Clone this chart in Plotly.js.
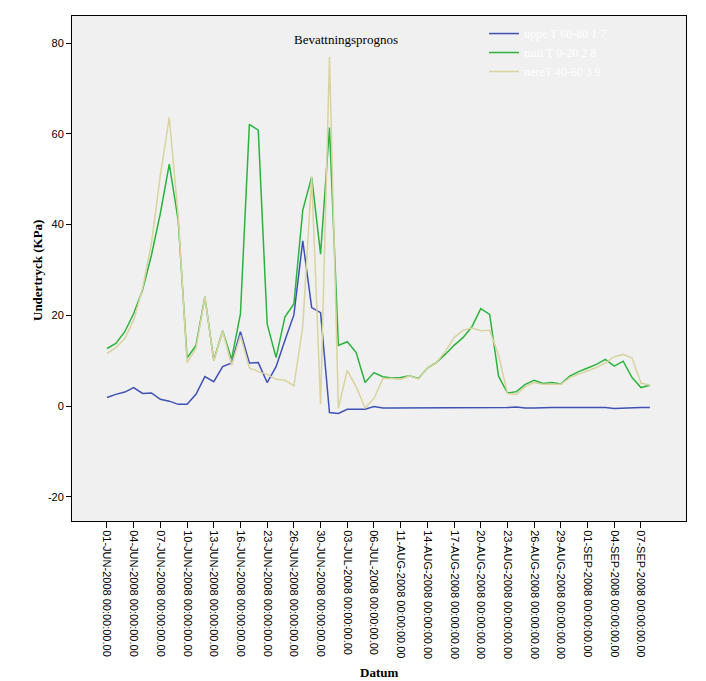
<!DOCTYPE html>
<html>
<head>
<meta charset="utf-8">
<script src="https://cdn.plot.ly/plotly-3.0.1.min.js"></script>
<style>
html,body{margin:0;padding:0;background:#ffffff;}
#chart{width:706px;height:681px;}
</style>
</head>
<body>
<div id="chart"></div>
<script>
// Category labels (one per measurement)
var dates = [
"01-JUN-2008 00:00:00.00","02-JUN-2008 00:00:00.00","03-JUN-2008 00:00:00.00","04-JUN-2008 00:00:00.00",
"05-JUN-2008 00:00:00.00","06-JUN-2008 00:00:00.00","07-JUN-2008 00:00:00.00","08-JUN-2008 00:00:00.00",
"09-JUN-2008 00:00:00.00","10-JUN-2008 00:00:00.00","11-JUN-2008 00:00:00.00","12-JUN-2008 00:00:00.00",
"13-JUN-2008 00:00:00.00","14-JUN-2008 00:00:00.00","15-JUN-2008 00:00:00.00","16-JUN-2008 00:00:00.00",
"18-JUN-2008 00:00:00.00","20-JUN-2008 00:00:00.00","23-JUN-2008 00:00:00.00","24-JUN-2008 00:00:00.00",
"25-JUN-2008 00:00:00.00","26-JUN-2008 00:00:00.00","27-JUN-2008 00:00:00.00","29-JUN-2008 00:00:00.00",
"30-JUN-2008 00:00:00.00","01-JUL-2008 00:00:00.00","02-JUL-2008 00:00:00.00","03-JUL-2008 00:00:00.00",
"04-JUL-2008 00:00:00.00","05-JUL-2008 00:00:00.00","06-JUL-2008 00:00:00.00","08-JUL-2008 00:00:00.00",
"10-AUG-2008 00:00:00.00","11-AUG-2008 00:00:00.00","12-AUG-2008 00:00:00.00","13-AUG-2008 00:00:00.00",
"14-AUG-2008 00:00:00.00","15-AUG-2008 00:00:00.00","16-AUG-2008 00:00:00.00","17-AUG-2008 00:00:00.00",
"18-AUG-2008 00:00:00.00","19-AUG-2008 00:00:00.00","20-AUG-2008 00:00:00.00","21-AUG-2008 00:00:00.00",
"22-AUG-2008 00:00:00.00","23-AUG-2008 00:00:00.00","24-AUG-2008 00:00:00.00","25-AUG-2008 00:00:00.00",
"26-AUG-2008 00:00:00.00","27-AUG-2008 00:00:00.00","28-AUG-2008 00:00:00.00","29-AUG-2008 00:00:00.00",
"30-AUG-2008 00:00:00.00","31-AUG-2008 00:00:00.00","01-SEP-2008 00:00:00.00","02-SEP-2008 00:00:00.00",
"03-SEP-2008 00:00:00.00","04-SEP-2008 00:00:00.00","05-SEP-2008 00:00:00.00","06-SEP-2008 00:00:00.00",
"07-SEP-2008 00:00:00.00","08-SEP-2008 00:00:00.00"
];

// Series names
var seriesNames = ["uppe T 60-80 1 7", "mitt T 0-20 2 8", "nereT 40-60 3 9"];

// uppe (blue)
var uppe = [1.9,2.6,3.1,4.1,2.8,2.9,1.5,1.1,0.4,0.4,
            2.6,6.5,5.4,8.7,9.5,16.4,9.5,9.6,5.2,8.7,
            14.5,20.1,36.4,21.7,20.6,-1.4,-1.6,-0.7,-0.7,-0.7,
            -0.1,-0.4,-0.4,-0.4,-0.3,-0.4,-0.3,-0.3,-0.3,-0.3,
            -0.3,-0.3,-0.3,-0.3,-0.3,-0.3,-0.2,-0.4,-0.4,-0.3,
            -0.3,-0.3,-0.3,-0.3,-0.3,-0.4,-0.3,-0.5,-0.4,-0.3,
            -0.3,-0.3];

// mitt (green)
var mitt = [12.7,13.8,16.4,20.4,25.6,33.3,42.5,53.3,41.0,10.6,
            13.4,24.1,10.1,16.6,10.3,20.4,62.1,60.8,18.1,10.7,
            19.7,22.5,43.2,50.5,33.5,61.4,13.4,14.2,11.8,5.2,
            7.4,6.5,6.2,6.3,6.7,6.1,8.4,9.6,11.4,13.4,
            15.1,17.5,21.5,20.2,6.6,2.9,3.2,4.8,5.7,5.0,
            5.2,4.9,6.6,7.6,8.4,9.2,10.3,8.8,9.9,6.3,
            4.1,4.6];

// nere (tan)
var nere = [11.6,12.9,14.9,19.0,25.9,35.9,50.9,63.6,42.0,9.6,
            12.7,24.1,9.9,16.6,9.0,15.6,8.4,7.6,7.0,5.9,
            5.7,4.5,17.5,50.5,0.4,76.9,-0.5,7.9,4.3,-0.4,
            1.7,6.1,6.1,5.9,6.7,6.0,8.4,9.5,12.0,15.1,
            16.7,17.2,16.6,16.7,11.2,2.8,2.6,4.3,5.2,4.8,
            4.8,4.8,6.3,7.1,7.8,8.5,9.5,10.9,11.4,10.6,
            5.1,4.6];

var yTicks = [-20, 0, 20, 40, 60, 80];

var colors = ["#3f51b5", "#2bb33d", "#d8d39f"];

var tickVals = dates.filter(function(d, i){ return i % 3 === 0; });

var series = [uppe, mitt, nere];
var traces = series.map(function(vals, k){
  return {
    type: "scatter",
    mode: "lines",
    x: dates,
    y: vals,
    name: seriesNames[k],
    line: {color: colors[k], width: 1.5},
    hoverinfo: "x+y+name"
  };
});

var layout = {
  width: 706,
  height: 681,
  margin: {l: 72, r: 20, t: 16, b: 160, pad: 0},
  paper_bgcolor: "#ffffff",
  plot_bgcolor: "#f0f0f0",
  showlegend: true,
  legend: {
    x: 0.671, y: 0.994, xanchor: "left", yanchor: "top",
    bgcolor: "rgba(0,0,0,0)",
    font: {family: "Liberation Serif", size: 12, color: "#ffffff"},
    tracegroupgap: 0,
    itemwidth: 30
  },
  xaxis: {
    type: "category",
    range: [-3.93, 65.06],
    tickmode: "array",
    tickvals: tickVals,
    ticktext: tickVals,
    tickangle: 90,
    ticks: "outside",
    ticklen: 6,
    tickcolor: "#000000",
    tickfont: {family: "Liberation Sans", size: 11, color: "#000000"},
    showline: true,
    linecolor: "#000000",
    linewidth: 1,
    mirror: true,
    showgrid: false,
    zeroline: false
  },
  yaxis: {
    range: [-25.3, 85.95],
    tickmode: "array",
    tickvals: yTicks,
    ticktext: yTicks.map(String),
    ticks: "outside",
    ticklen: 5,
    tickcolor: "#000000",
    tickfont: {family: "Liberation Sans", size: 11, color: "#000000"},
    showline: true,
    linecolor: "#000000",
    linewidth: 1,
    mirror: true,
    showgrid: false,
    zeroline: false
  },
  annotations: [
    {text: "Bevattningsprognos", xref: "paper", yref: "paper",
     x: (346 - 72) / 614, y: 1 - (39 - 16) / 505, xanchor: "center", yanchor: "middle",
     showarrow: false, font: {family: "Liberation Serif", size: 13, color: "#000000"}},
    {text: "<b>Undertryck (KPa)</b>", xref: "paper", yref: "paper",
     x: (37 - 72) / 614, y: 1 - (271 - 16) / 505, xanchor: "center", yanchor: "middle",
     textangle: -90, showarrow: false,
     font: {family: "Liberation Serif", size: 13, color: "#000000"}},
    {text: "<b>Datum</b>", xref: "paper", yref: "paper",
     x: (379 - 72) / 614, y: -(672 - 521) / 505, xanchor: "center", yanchor: "middle",
     showarrow: false, font: {family: "Liberation Serif", size: 13, color: "#000000"}}
  ]
};

Plotly.newPlot("chart", traces, layout, {displayModeBar: false, staticPlot: true});
</script>
</body>
</html>
